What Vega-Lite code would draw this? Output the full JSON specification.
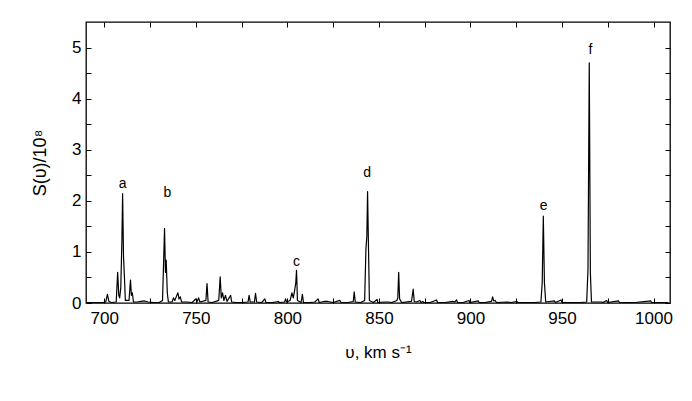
{
  "$schema": "https://vega.github.io/schema/vega-lite/v6.json",
  "width": 584,
  "height": 281,
  "autosize": "none",
  "padding": {"left": 86, "top": 22, "right": 22, "bottom": 98},
  "background": "white",
  "config": {
    "font": "Liberation Sans",
    "view": {"stroke": "black", "strokeWidth": 1.3},
    "axis": {
      "domain": false,
      "grid": false,
      "ticks": true,
      "tickColor": "black",
      "tickSize": -5,
      "tickWidth": 1,
      "labelColor": "black",
      "labelFont": "Liberation Sans",
      "labelFontSize": 17,
      "titleFont": "Liberation Sans",
      "titleFontSize": 17,
      "titleFontWeight": "normal",
      "titleColor": "black",
      "labelOverlap": false
    }
  },
  "layer": [
    {
      "data": {
        "values": [
          {"v": 690.5, "S": 0.01}, {"v": 695, "S": 0.01}, {"v": 699, "S": 0.01}, {"v": 700.8, "S": 0.02},
          {"v": 701.7, "S": 0.17}, {"v": 702.5, "S": 0.03}, {"v": 704, "S": 0.01}, {"v": 706.5, "S": 0.02},
          {"v": 707.3, "S": 0.6}, {"v": 707.9, "S": 0.15}, {"v": 708.4, "S": 0.1}, {"v": 709.0, "S": 0.3},
          {"v": 709.6, "S": 1.2}, {"v": 710.0, "S": 2.14}, {"v": 710.5, "S": 0.9}, {"v": 711.0, "S": 0.5},
          {"v": 711.5, "S": 0.05}, {"v": 713.5, "S": 0.05}, {"v": 714.3, "S": 0.45}, {"v": 714.8, "S": 0.15},
          {"v": 715.3, "S": 0.2}, {"v": 715.9, "S": 0.02}, {"v": 718, "S": 0.02}, {"v": 720, "S": 0.03},
          {"v": 722, "S": 0.04}, {"v": 724, "S": 0.02}, {"v": 727, "S": 0.01}, {"v": 730, "S": 0.01},
          {"v": 731.8, "S": 0.05}, {"v": 732.4, "S": 0.8}, {"v": 732.9, "S": 1.46}, {"v": 733.4, "S": 0.6},
          {"v": 733.8, "S": 0.84}, {"v": 734.4, "S": 0.2}, {"v": 735.0, "S": 0.02}, {"v": 737, "S": 0.02},
          {"v": 737.8, "S": 0.1}, {"v": 738.5, "S": 0.05}, {"v": 739.5, "S": 0.14}, {"v": 740.2, "S": 0.2},
          {"v": 740.8, "S": 0.08}, {"v": 741.5, "S": 0.12}, {"v": 742.2, "S": 0.02}, {"v": 745, "S": 0.02},
          {"v": 748, "S": 0.01}, {"v": 750, "S": 0.08}, {"v": 750.6, "S": 0.02}, {"v": 751.5, "S": 0.1},
          {"v": 752.2, "S": 0.02}, {"v": 755.5, "S": 0.05}, {"v": 756.1, "S": 0.38}, {"v": 756.7, "S": 0.02},
          {"v": 759, "S": 0.01}, {"v": 762.5, "S": 0.05}, {"v": 763.3, "S": 0.51}, {"v": 763.9, "S": 0.1},
          {"v": 764.6, "S": 0.2}, {"v": 765.3, "S": 0.05}, {"v": 766.2, "S": 0.15}, {"v": 767, "S": 0.03},
          {"v": 769.0, "S": 0.15}, {"v": 769.6, "S": 0.02}, {"v": 772, "S": 0.01}, {"v": 775, "S": 0.01},
          {"v": 778.5, "S": 0.02}, {"v": 779.1, "S": 0.15}, {"v": 779.7, "S": 0.02}, {"v": 782, "S": 0.02},
          {"v": 782.6, "S": 0.19}, {"v": 783.2, "S": 0.02}, {"v": 786, "S": 0.01}, {"v": 787.7, "S": 0.08},
          {"v": 788.3, "S": 0.01}, {"v": 792, "S": 0.01}, {"v": 795, "S": 0.03}, {"v": 795.6, "S": 0.01},
          {"v": 798.5, "S": 0.02}, {"v": 799, "S": 0.08}, {"v": 799.6, "S": 0.02}, {"v": 801.5, "S": 0.05},
          {"v": 802.5, "S": 0.2}, {"v": 803.2, "S": 0.1}, {"v": 804.0, "S": 0.25}, {"v": 804.6, "S": 0.4},
          {"v": 805.0, "S": 0.64}, {"v": 805.5, "S": 0.05}, {"v": 807.5, "S": 0.01}, {"v": 808.2, "S": 0.17},
          {"v": 808.8, "S": 0.01}, {"v": 812, "S": 0.01}, {"v": 815, "S": 0.02}, {"v": 816.8, "S": 0.08},
          {"v": 817.4, "S": 0.01}, {"v": 820, "S": 0.03}, {"v": 822, "S": 0.03}, {"v": 825, "S": 0.01},
          {"v": 828.7, "S": 0.05}, {"v": 829.3, "S": 0.01}, {"v": 833, "S": 0.01}, {"v": 836.0, "S": 0.03},
          {"v": 836.5, "S": 0.22}, {"v": 837.1, "S": 0.02}, {"v": 840, "S": 0.01}, {"v": 842.2, "S": 0.05},
          {"v": 842.9, "S": 1.05}, {"v": 843.4, "S": 1.3}, {"v": 843.8, "S": 2.18}, {"v": 844.3, "S": 1.1},
          {"v": 844.8, "S": 0.05}, {"v": 847, "S": 0.01}, {"v": 849, "S": 0.07}, {"v": 849.4, "S": 0.01},
          {"v": 853, "S": 0.02}, {"v": 855, "S": 0.02}, {"v": 857, "S": 0.01}, {"v": 859.8, "S": 0.05},
          {"v": 860.3, "S": 0.1}, {"v": 860.8, "S": 0.6}, {"v": 861.3, "S": 0.08}, {"v": 861.8, "S": 0.05},
          {"v": 862.4, "S": 0.01}, {"v": 867.8, "S": 0.03}, {"v": 868.7, "S": 0.27}, {"v": 869.3, "S": 0.03},
          {"v": 870.5, "S": 0.02}, {"v": 872.4, "S": 0.05}, {"v": 873, "S": 0.01}, {"v": 874, "S": 0.03},
          {"v": 874.5, "S": 0.01}, {"v": 878, "S": 0.01}, {"v": 881.5, "S": 0.06}, {"v": 882, "S": 0.01},
          {"v": 886, "S": 0.01}, {"v": 890.6, "S": 0.03}, {"v": 891.5, "S": 0.02}, {"v": 892.4, "S": 0.06},
          {"v": 893, "S": 0.01}, {"v": 896, "S": 0.01}, {"v": 899.2, "S": 0.05}, {"v": 899.6, "S": 0.01},
          {"v": 904.3, "S": 0.04}, {"v": 904.8, "S": 0.01}, {"v": 908, "S": 0.01}, {"v": 911.5, "S": 0.03},
          {"v": 912.1, "S": 0.12}, {"v": 912.7, "S": 0.04}, {"v": 913.5, "S": 0.05}, {"v": 914.2, "S": 0.01},
          {"v": 919.8, "S": 0.02}, {"v": 922, "S": 0.01}, {"v": 925.3, "S": 0.03}, {"v": 926, "S": 0.01},
          {"v": 930, "S": 0.01}, {"v": 935, "S": 0.01}, {"v": 938.5, "S": 0.02}, {"v": 939.2, "S": 0.4},
          {"v": 939.8, "S": 1.7}, {"v": 940.4, "S": 0.4}, {"v": 941.1, "S": 0.02}, {"v": 945.8, "S": 0.04},
          {"v": 946.4, "S": 0.01}, {"v": 949.5, "S": 0.06}, {"v": 950.1, "S": 0.01}, {"v": 955, "S": 0.01},
          {"v": 960, "S": 0.01}, {"v": 963.5, "S": 0.02}, {"v": 964.2, "S": 0.66}, {"v": 964.9, "S": 4.7},
          {"v": 965.5, "S": 0.6}, {"v": 966.1, "S": 0.02}, {"v": 971.7, "S": 0.02}, {"v": 972.3, "S": 0.01},
          {"v": 974.4, "S": 0.05}, {"v": 975, "S": 0.01}, {"v": 980.8, "S": 0.04}, {"v": 981.4, "S": 0.01},
          {"v": 990, "S": 0.01}, {"v": 998.5, "S": 0.04}, {"v": 999, "S": 0.01}, {"v": 1008, "S": 0.01}
        ]
      },
      "mark": {"type": "line", "color": "black", "strokeWidth": 1.2, "strokeJoin": "round", "clip": true},
      "encoding": {
        "x": {
          "field": "v", "type": "quantitative",
          "scale": {"domain": [690, 1009], "nice": false, "zero": false},
          "axis": {
            "orient": "bottom",
            "values": [700, 725, 750, 775, 800, 825, 850, 875, 900, 925, 950, 975, 1000],
            "format": "d",
            "labelExpr": "datum.value % 50 == 0 ? datum.label : ''",
            "labelPadding": 12,
            "title": "υ, km s⁻¹",
            "titlePadding": 18
          }
        },
        "y": {
          "field": "S", "type": "quantitative",
          "scale": {"domain": [0, 5.5], "nice": false},
          "axis": {
            "orient": "left",
            "values": [0, 0.5, 1, 1.5, 2, 2.5, 3, 3.5, 4, 4.5, 5],
            "labelExpr": "datum.value % 1 == 0 ? format(datum.value, 'd') : ''",
            "labelPadding": 10,
            "title": "S(υ)/10⁸",
            "titleFontSize": 18,
            "titlePadding": 22
          }
        }
      }
    },
    {
      "data": {
        "values": [
          {"v": 710, "S": 2.33, "label": "a"},
          {"v": 734.5, "S": 2.16, "label": "b"},
          {"v": 805, "S": 0.8, "label": "c"},
          {"v": 843.5, "S": 2.55, "label": "d"},
          {"v": 940, "S": 1.9, "label": "e"},
          {"v": 965.5, "S": 4.96, "label": "f"}
        ]
      },
      "mark": {"type": "text", "color": "black", "fontSize": 14, "font": "Liberation Sans", "baseline": "middle", "align": "center"},
      "encoding": {
        "x": {
          "field": "v", "type": "quantitative",
          "scale": {"domain": [690, 1009], "nice": false, "zero": false},
          "axis": {
            "orient": "top",
            "values": [700, 725, 750, 775, 800, 825, 850, 875, 900, 925, 950, 975, 1000],
            "labels": false,
            "title": null
          }
        },
        "y": {
          "field": "S", "type": "quantitative",
          "scale": {"domain": [0, 5.5], "nice": false},
          "axis": {
            "orient": "right",
            "values": [0, 0.5, 1, 1.5, 2, 2.5, 3, 3.5, 4, 4.5, 5],
            "labels": false,
            "title": null
          }
        },
        "text": {"field": "label"}
      }
    }
  ],
  "resolve": {"axis": {"x": "independent", "y": "independent"}}
}
